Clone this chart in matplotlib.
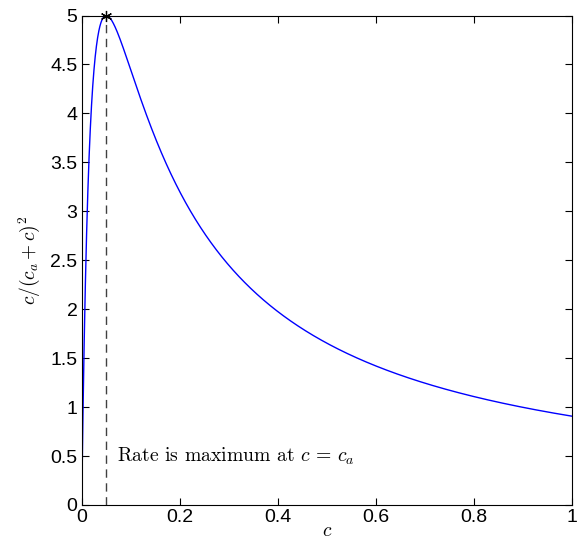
import matplotlib
matplotlib.use("Agg")
import matplotlib.pyplot as plt
import numpy as np

plt.rcParams['mathtext.fontset'] = 'cm'
plt.rcParams['font.family'] = ['Liberation Sans', 'DejaVu Sans']

# half-saturation constant (c = 0.05, rate = 5)
ca = 0.05
c = np.linspace(0, 1, 2001)
rate = c / (ca + c) ** 2

xticks = [0, 0.2, 0.4, 0.6, 0.8, 1]
xlabels = ['0', '0.2', '0.4', '0.6', '0.8', '1']
yticks = [0, 0.5, 1, 1.5, 2, 2.5, 3, 3.5, 4, 4.5, 5]
ylabels = ['0', '0.5', '1', '1.5', '2', '2.5', '3', '3.5', '4', '4.5', '5']

fig = plt.figure(figsize=(5.82, 5.42), dpi=100)
ax = fig.add_axes([0.1404, 0.0683, 0.8424, 0.9031])

ax.plot(c, rate, color='#0000ff', lw=1)
ax.plot([ca, ca], [0, ca / (2 * ca) ** 2], color='#404040', lw=1, dashes=(6, 4))
ax.plot([ca], [ca / (2 * ca) ** 2], marker=(6, 2, 0), color='k', ms=8,
        clip_on=False, markeredgewidth=0.9)

ax.text(0.071, 0.5, r'Rate is maximum at $c\, =\, c_a$', fontsize=14.2,
        family='cmr10', va='center', ha='left')

ax.set_xlim(0, 1)
ax.set_ylim(0, 5)
ax.set_xticks(xticks)
ax.set_xticklabels(xlabels)
ax.set_yticks(yticks)
ax.set_yticklabels(ylabels)
ax.tick_params(direction='in', length=5, width=0.8, top=True, right=True,
               labelsize=14, pad=3)
for s in ax.spines.values():
    s.set_linewidth(0.8)

ax.set_xlabel(r'$c$', fontsize=14, labelpad=-2)
ax.set_ylabel(r'$c/(c_a+c)^2$', fontsize=14, labelpad=6)

fig.savefig('out.png', dpi=100)
